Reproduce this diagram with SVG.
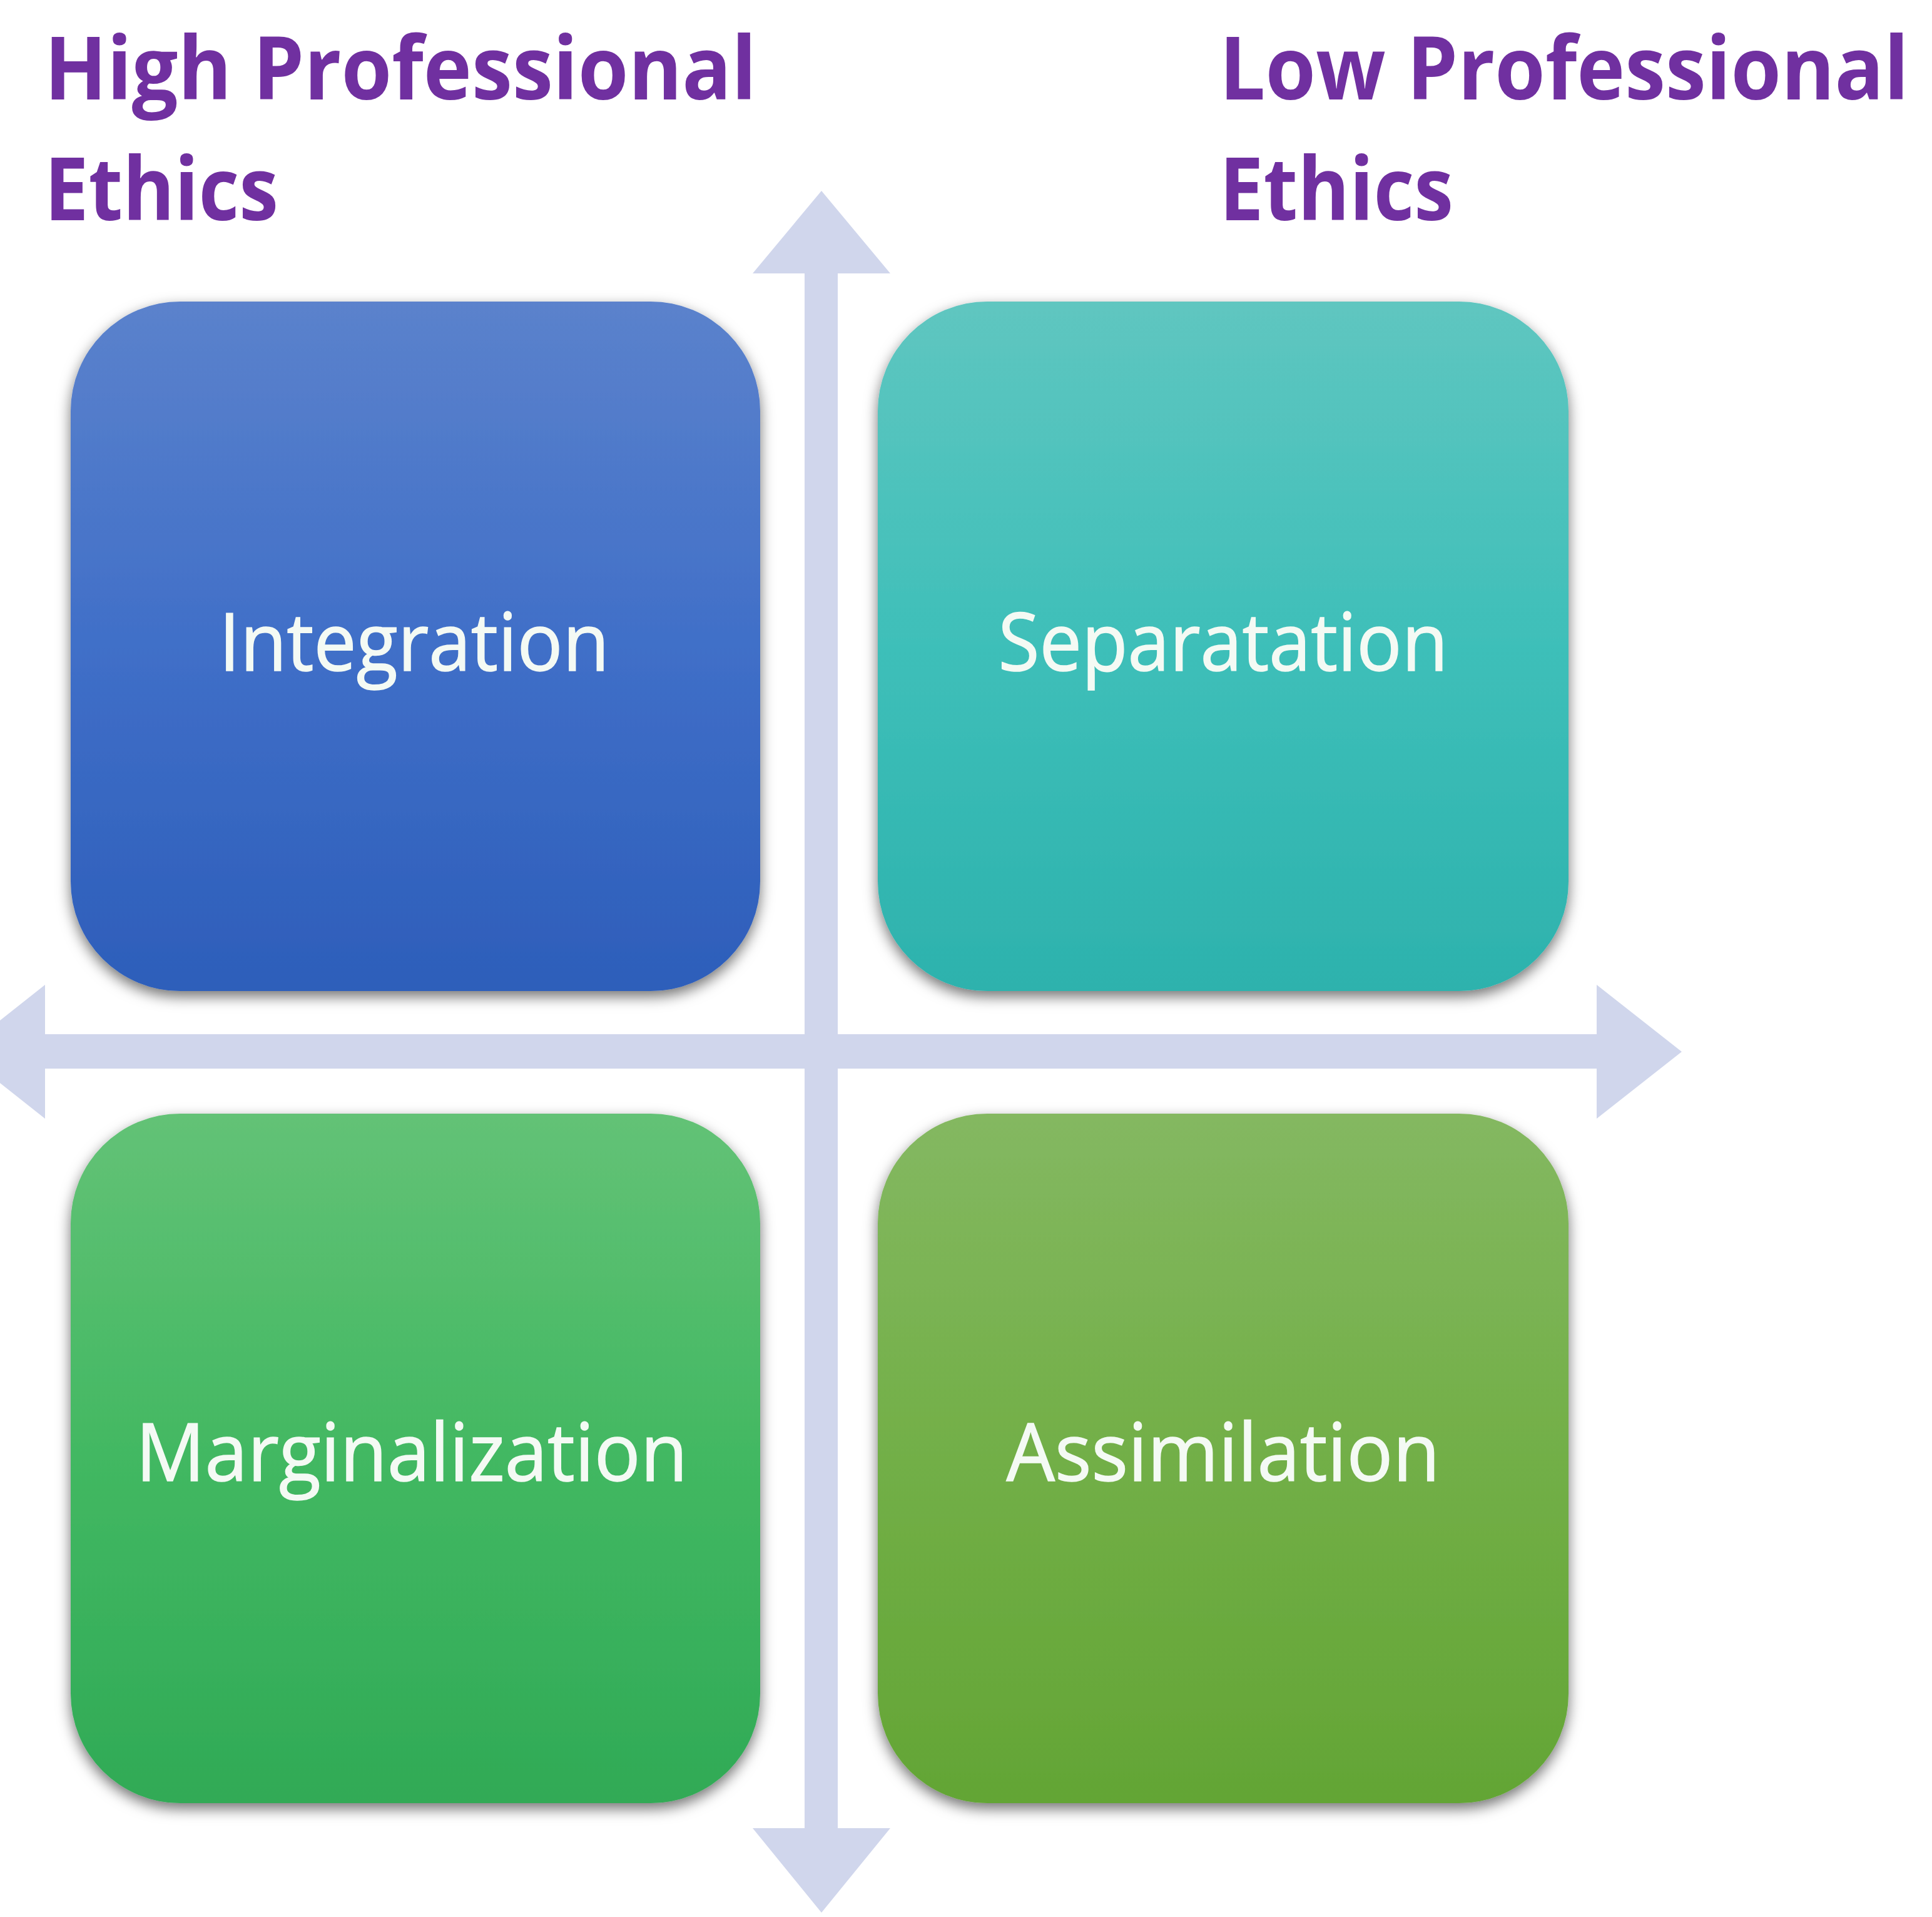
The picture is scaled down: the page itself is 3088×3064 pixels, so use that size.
<svg xmlns="http://www.w3.org/2000/svg" width="3088" height="3064" viewBox="0 0 3088 3064">
  <style>
    .title { font-family: "Open Sans", "Liberation Sans", sans-serif; font-weight: 700; font-size: 140px; fill: #7030A0; }
    .label { font-family: "Open Sans", "Liberation Sans", sans-serif; font-weight: 400; font-size: 128px; fill: #F4FAF4; stroke: #F4FAF4; stroke-width: 1.5; text-anchor: middle; }
    .axis { fill: #D0D6EC; }
  </style>
  <defs>
    <filter id="shadow" x="-10%" y="-10%" width="120%" height="125%">
      <feDropShadow dx="0" dy="9" stdDeviation="11" flood-color="#000000" flood-opacity="0.55"/>
    </filter>
    <linearGradient id="gBlue" x1="0" y1="0" x2="0" y2="1">
      <stop offset="0" stop-color="#5B82CC"/>
      <stop offset="0.5" stop-color="#406FC8"/>
      <stop offset="1" stop-color="#2D5EBA"/>
    </linearGradient>
    <linearGradient id="gTeal" x1="0" y1="0" x2="0" y2="1">
      <stop offset="0" stop-color="#5FC6C0"/>
      <stop offset="0.5" stop-color="#3EBFB9"/>
      <stop offset="1" stop-color="#2DB2AD"/>
    </linearGradient>
    <linearGradient id="gGreen" x1="0" y1="0" x2="0" y2="1">
      <stop offset="0" stop-color="#63C276"/>
      <stop offset="0.5" stop-color="#42B862"/>
      <stop offset="1" stop-color="#30AA56"/>
    </linearGradient>
    <linearGradient id="gLime" x1="0" y1="0" x2="0" y2="1">
      <stop offset="0" stop-color="#84B861"/>
      <stop offset="0.5" stop-color="#72AF47"/>
      <stop offset="1" stop-color="#63A535"/>
    </linearGradient>
  </defs>
  <rect width="3088" height="3064" fill="#FFFFFF"/>

  <g id="titles">
    <text class="title" x="71" y="159" textLength="1138" lengthAdjust="spacingAndGlyphs">High Professional</text>
    <text class="title" x="71" y="352" textLength="374" lengthAdjust="spacingAndGlyphs">Ethics</text>
    <text class="title" x="1949" y="159" textLength="1102" lengthAdjust="spacingAndGlyphs">Low Professional</text>
    <text class="title" x="1949" y="352" textLength="374" lengthAdjust="spacingAndGlyphs">Ethics</text>
  </g>

  <g id="connectors">
    <polygon class="axis" points="1313,305 1423,437 1339,437 1339,2922 1423,2922 1313,3057 1203,2922 1286,2922 1286,437 1203,437"/>
    <polygon class="axis" points="-63,1681 72,1574 72,1653 2552,1653 2552,1574 2688,1681 2552,1788 2552,1708 72,1708 72,1788"/>
  </g>

  <g id="integration">
    <rect x="113" y="482" width="1102" height="1102" rx="175" ry="175" fill="url(#gBlue)" filter="url(#shadow)"/>
    <text class="label" x="662" y="1072" textLength="624" lengthAdjust="spacingAndGlyphs">Integration</text>
  </g>
  <g id="separatation">
    <rect x="1403" y="482" width="1104" height="1102" rx="175" ry="175" fill="url(#gTeal)" filter="url(#shadow)"/>
    <text class="label" x="1955" y="1072" textLength="719" lengthAdjust="spacingAndGlyphs">Separatation</text>
  </g>
  <g id="marginalization">
    <rect x="113" y="1780" width="1102" height="1102" rx="175" ry="175" fill="url(#gGreen)" filter="url(#shadow)"/>
    <text class="label" x="658" y="2367" textLength="882" lengthAdjust="spacingAndGlyphs">Marginalization</text>
  </g>
  <g id="assimilation">
    <rect x="1403" y="1780" width="1104" height="1102" rx="175" ry="175" fill="url(#gLime)" filter="url(#shadow)"/>
    <text class="label" x="1955" y="2367" textLength="693" lengthAdjust="spacingAndGlyphs">Assimilation</text>
  </g>
</svg>
